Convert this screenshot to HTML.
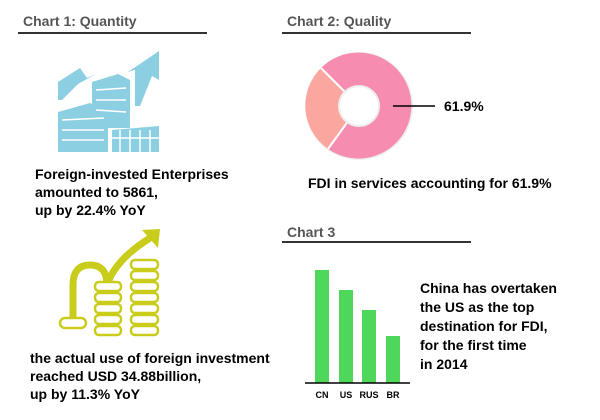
<!DOCTYPE html>
<html><head><style>
body{margin:0;width:600px;height:420px;background:#fff;overflow:hidden;font-family:"Liberation Sans",Arial,sans-serif;}
.t{position:absolute;font-weight:bold;color:#000;font-size:14px;line-height:18px;}
.h{position:absolute;font-weight:bold;color:#555;font-size:14px;}
.l{position:absolute;height:2px;background:#333;}
</style></head><body>
<div class="h" style="left:23px;top:13px">Chart 1: Quantity</div>
<div class="l" style="left:18px;top:32px;width:189px"></div>
<div class="h" style="left:287px;top:13px">Chart 2: Quality</div>
<div class="l" style="left:282px;top:32px;width:189px"></div>
<div class="h" style="left:287px;top:224px">Chart 3</div>
<div class="l" style="left:282px;top:241px;width:189px"></div>

<svg width="600" height="420" style="position:absolute;left:0;top:0">
<!-- buildings -->
<g fill="#8ccfe3">
<polygon points="58,100 58,82 80,68 87,78 96,74 78,84 62,100"/>
<polygon points="135,106 135,70 128,72 159,51 159,80 152,76 140,106"/>
<polygon points="92,82 118,74 130,80 130,128 92,128"/>
<polygon points="58,112 90,103 108,112 108,152 58,152"/>
<polygon points="112,130 159,126 159,152 112,152"/>
</g>
<g stroke="#fff" stroke-width="1.5">
<line x1="62" y1="120" x2="104" y2="118"/><line x1="62" y1="130" x2="104" y2="130"/><line x1="62" y1="140" x2="104" y2="140"/>
<line x1="96" y1="90" x2="126" y2="88"/><line x1="96" y1="100" x2="126" y2="100"/><line x1="96" y1="110" x2="126" y2="112"/>
<line x1="112" y1="138" x2="159" y2="138"/><line x1="120" y1="130" x2="120" y2="152"/><line x1="130" y1="130" x2="130" y2="152"/><line x1="140" y1="130" x2="140" y2="152"/><line x1="150" y1="130" x2="150" y2="152"/>
</g>
<!-- coins -->
<g fill="none" stroke="#c9cc1b" stroke-width="3">
<path d="M73,318 L73,285 Q73,265 90,265 Q107,265 107,285 L107,290" stroke-width="7"/>
<path d="M107,285 Q115,260 150,238" stroke-width="7"/>
</g>
<polygon points="142,230 160,229 158,248" fill="#c9cc1b"/>
<g fill="#fff" stroke="#c9cc1b" stroke-width="2.5">
<rect x="60" y="318" width="26" height="10" rx="5"/>
<rect x="95" y="326" width="26" height="9" rx="4"/><rect x="95" y="315" width="26" height="9" rx="4"/><rect x="95" y="304" width="26" height="9" rx="4"/><rect x="95" y="293" width="26" height="9" rx="4"/><rect x="95" y="282" width="26" height="9" rx="4"/>
<rect x="131" y="326" width="27" height="9" rx="4"/><rect x="131" y="315" width="27" height="9" rx="4"/><rect x="131" y="304" width="27" height="9" rx="4"/><rect x="131" y="293" width="27" height="9" rx="4"/><rect x="131" y="282" width="27" height="9" rx="4"/><rect x="131" y="271" width="27" height="9" rx="4"/><rect x="131" y="260" width="27" height="9" rx="4"/>
</g>
<!-- donut -->
<circle cx="359" cy="106" r="54" fill="#eee"/>
<path d="M359,106 L321,68 A53,53 0 0 0 328,149 Z" fill="#fba7a0"/>
<path d="M359,106 L328,149 A53,53 0 1 0 321,68 Z" fill="#f68cb0"/>
<line x1="359" y1="106" x2="321" y2="68" stroke="#fff" stroke-width="2"/>
<line x1="359" y1="106" x2="328" y2="149" stroke="#fff" stroke-width="2"/>
<circle cx="359" cy="106" r="20" fill="#fff" stroke="#eee" stroke-width="2"/>
<line x1="393" y1="106" x2="435" y2="106" stroke="#000" stroke-width="1.5"/>
<!-- bars -->
<g fill="#4fd75c">
<rect x="315" y="270" width="14" height="113"/>
<rect x="339" y="290" width="14" height="93"/>
<rect x="362" y="310" width="14" height="73"/>
<rect x="386" y="336" width="14" height="47"/>
</g>
<line x1="305" y1="383" x2="410" y2="383" stroke="#000" stroke-width="1.5"/>
<g font-family="Liberation Sans,Arial,sans-serif" font-weight="bold" font-size="9" text-anchor="middle">
<text x="322" y="398">CN</text><text x="346" y="398">US</text><text x="369" y="398">RUS</text><text x="393" y="398">BR</text>
</g>
</svg>
<div class="t" style="left:444px;top:97px">61.9%</div>
<div class="t" style="left:35px;top:165px">Foreign-invested Enterprises<br>amounted to 5861,<br>up by 22.4% YoY</div>
<div class="t" style="left:308px;top:174px">FDI in services accounting for 61.9%</div>
<div class="t" style="left:420px;top:279px;line-height:19px">China has overtaken<br>the US as the top<br>destination for FDI,<br>for the first time<br>in 2014</div>
<div class="t" style="left:30px;top:349px">the actual use of foreign investment<br>reached USD 34.88billion,<br>up by 11.3% YoY</div>
</body></html>
